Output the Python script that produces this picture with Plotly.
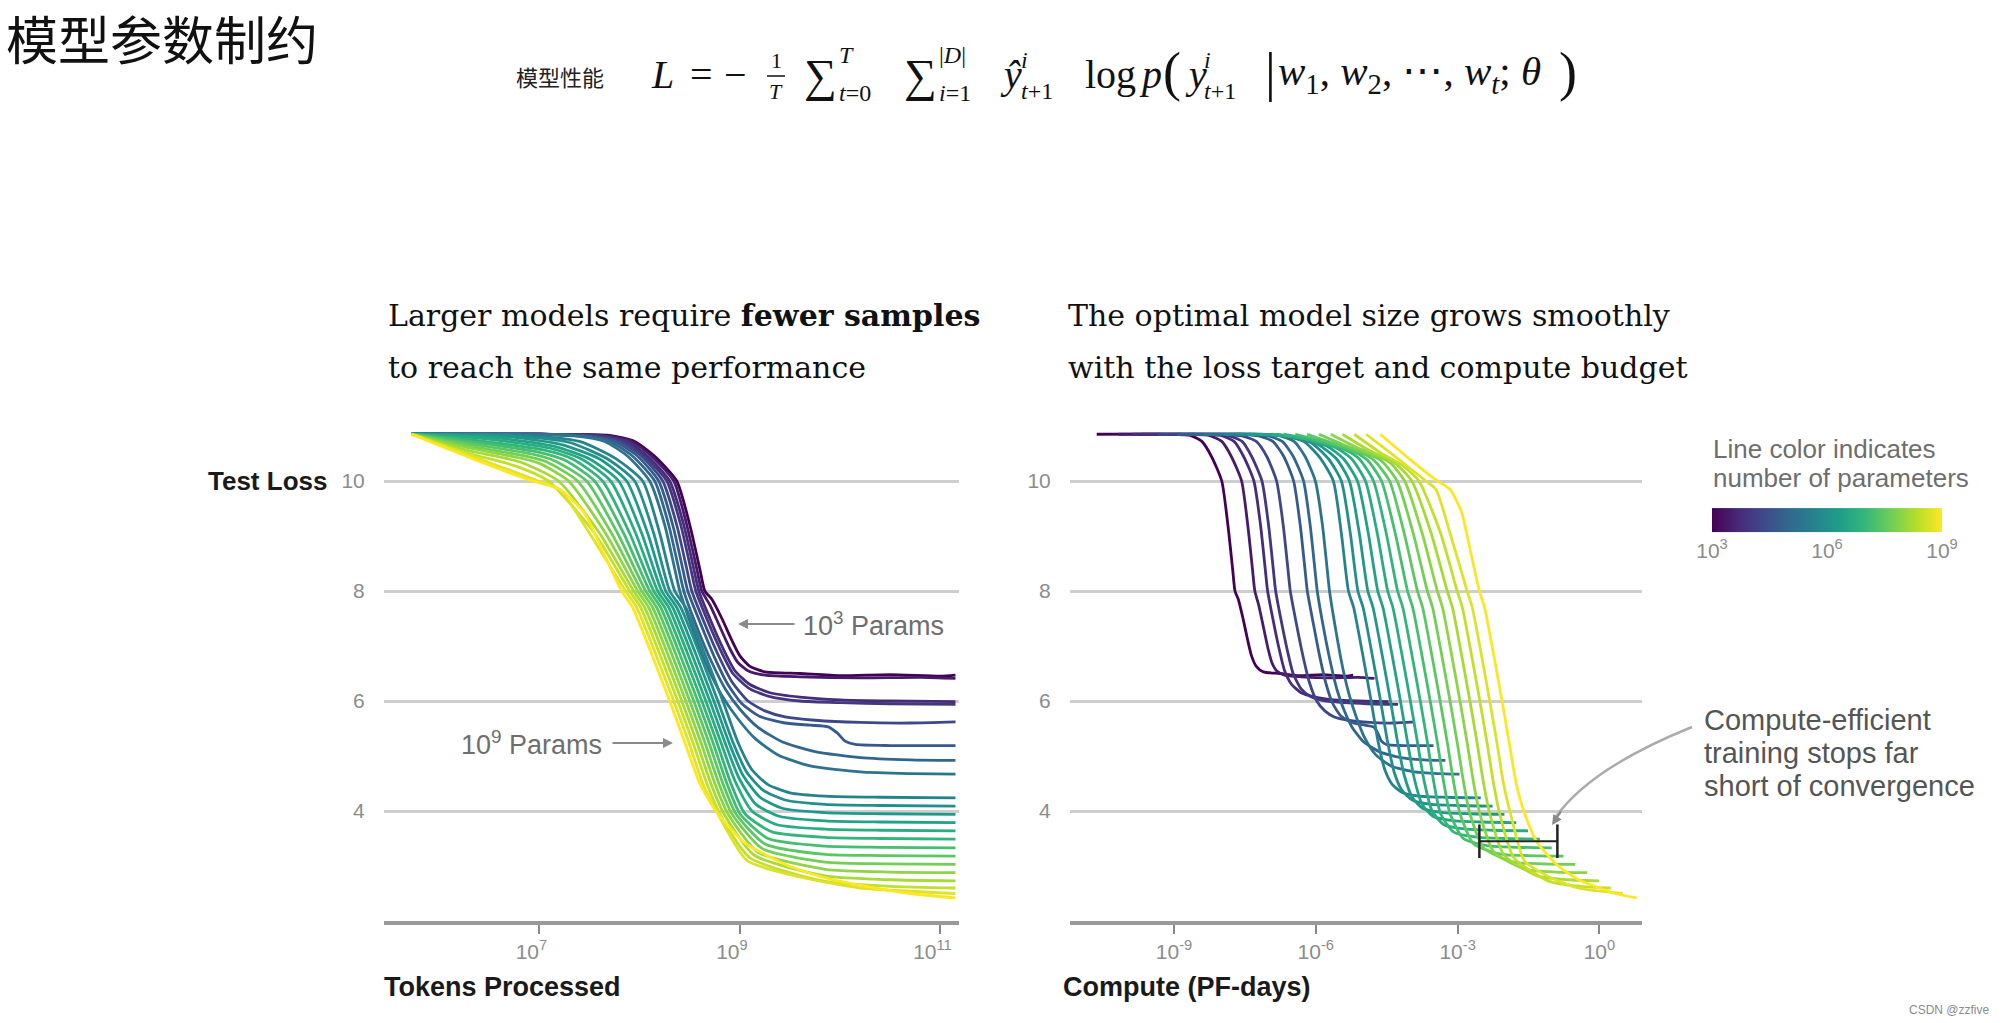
import numpy as np
import plotly.graph_objects as go
from plotly.colors import sample_colorscale

W, H = 2000, 1023

# ---------------- data ----------------
# log10(number of parameters) of each model (colour of its line)
MODEL_LOG_PARAMS = [3.0, 3.45, 3.75, 3.95, 4.3, 4.7, 4.95, 5.25, 5.7, 5.95, 6.2,
                    6.45, 6.7, 6.95, 7.2, 7.45, 7.7, 7.95, 8.2, 8.45, 8.7, 9.0]

# learning curves: (log10 tokens processed, test loss)
LOSS_CURVES = [
    [(5.725, 10.85), (7.0, 10.85), (7.7, 10.83), (7.95, 10.72), (8.15, 10.45), (8.37, 10.0), (8.5, 9.2), (8.6, 8.4), (8.65, 8.0), (8.72, 7.85), (8.82, 7.5), (8.92, 7.1), (9.0, 6.82), (9.1, 6.63), (9.25, 6.53), (9.6, 6.5), (10.0, 6.46), (10.5, 6.48), (11.0, 6.45), (11.15, 6.47)],
    [(5.725, 10.85), (7.0, 10.85), (7.65, 10.83), (7.92, 10.72), (8.12, 10.45), (8.34, 10.0), (8.47, 9.2), (8.57, 8.4), (8.62, 8.0), (8.7, 7.75), (8.8, 7.35), (8.9, 6.95), (8.98, 6.7), (9.08, 6.55), (9.25, 6.47), (9.6, 6.44), (10.2, 6.42), (10.8, 6.43), (11.15, 6.41)],
    [(5.725, 10.85), (7.0, 10.85), (7.6, 10.83), (7.88, 10.72), (8.08, 10.45), (8.3, 10.0), (8.44, 9.2), (8.54, 8.4), (8.59, 8.0), (8.7, 7.5), (8.82, 7.0), (8.95, 6.55), (9.1, 6.3), (9.3, 6.15), (9.6, 6.07), (10.0, 6.02), (10.5, 6.0), (11.15, 5.99)],
    [(5.725, 10.85), (7.0, 10.85), (7.55, 10.83), (7.85, 10.72), (8.05, 10.45), (8.27, 10.0), (8.41, 9.2), (8.51, 8.4), (8.56, 8.0), (8.68, 7.45), (8.8, 6.95), (8.93, 6.5), (9.1, 6.22), (9.3, 6.08), (9.6, 6.0), (10.0, 5.97), (10.5, 5.95), (11.15, 5.94)],
    [(5.725, 10.85), (7.0, 10.85), (7.5, 10.82), (7.8, 10.72), (8.02, 10.45), (8.23, 10.0), (8.37, 9.2), (8.47, 8.4), (8.52, 8.0), (8.65, 7.4), (8.78, 6.85), (8.92, 6.35), (9.08, 6.0), (9.25, 5.82), (9.45, 5.71), (9.75, 5.65), (10.2, 5.61), (10.7, 5.6), (11.15, 5.62)],
    [(5.725, 10.85), (7.0, 10.85), (7.45, 10.82), (7.75, 10.72), (7.98, 10.45), (8.19, 10.0), (8.33, 9.2), (8.43, 8.4), (8.48, 8.0), (8.62, 7.35), (8.75, 6.78), (8.88, 6.3), (9.02, 5.95), (9.2, 5.72), (9.45, 5.6), (9.7, 5.56), (9.88, 5.53), (9.97, 5.42), (10.05, 5.27), (10.15, 5.21), (10.5, 5.19), (11.15, 5.19)],
    [(5.725, 10.85), (6.9, 10.85), (7.4, 10.82), (7.7, 10.72), (7.93, 10.45), (8.15, 10.0), (8.29, 9.2), (8.39, 8.4), (8.44, 8.0), (8.58, 7.3), (8.72, 6.7), (8.86, 6.2), (9.0, 5.85), (9.18, 5.52), (9.42, 5.26), (9.75, 5.08), (10.2, 4.97), (10.7, 4.93), (11.15, 4.92)],
    [(5.725, 10.85), (6.85, 10.85), (7.35, 10.82), (7.65, 10.72), (7.88, 10.45), (8.1, 10.0), (8.25, 9.2), (8.35, 8.4), (8.4, 8.0), (8.54, 7.25), (8.68, 6.6), (8.82, 6.1), (8.97, 5.7), (9.15, 5.32), (9.38, 5.02), (9.7, 4.82), (10.2, 4.71), (10.7, 4.68), (11.15, 4.67)],
    [(5.725, 10.85), (6.8, 10.84), (7.4, 10.72), (7.75, 10.42), (8.03, 10.0), (8.2, 9.05), (8.35, 8.0), (8.46, 7.7), (8.64, 6.9), (8.83, 6.0), (8.98, 5.25), (9.12, 4.75), (9.28, 4.48), (9.5, 4.33), (9.85, 4.27), (10.4, 4.25), (11.15, 4.24)],
    [(5.725, 10.85), (6.7, 10.83), (7.3, 10.7), (7.68, 10.4), (7.95, 10.0), (8.14, 9.05), (8.30, 8.0), (8.41, 7.7), (8.59, 6.9), (8.78, 6.0), (8.93, 5.25), (9.07, 4.7), (9.23, 4.38), (9.45, 4.2), (9.85, 4.12), (10.4, 4.1), (11.15, 4.09)],
    [(5.725, 10.85), (6.6, 10.82), (7.2, 10.67), (7.6, 10.4), (7.87, 10.0), (8.08, 9.05), (8.26, 8.0), (8.37, 7.7), (8.55, 6.9), (8.74, 6.0), (8.89, 5.25), (9.03, 4.65), (9.2, 4.25), (9.42, 4.05), (9.85, 3.97), (10.4, 3.95), (11.15, 3.94)],
    [(5.725, 10.85), (6.5, 10.8), (7.15, 10.63), (7.5, 10.4), (7.79, 10.0), (8.02, 9.05), (8.22, 8.0), (8.33, 7.7), (8.51, 6.9), (8.70, 6.0), (8.85, 5.25), (8.99, 4.6), (9.16, 4.12), (9.4, 3.9), (9.85, 3.82), (10.4, 3.8), (11.15, 3.79)],
    [(5.725, 10.85), (6.4, 10.78), (7.1, 10.6), (7.42, 10.4), (7.71, 10.0), (7.96, 9.05), (8.18, 8.0), (8.29, 7.7), (8.47, 6.9), (8.66, 6.0), (8.81, 5.25), (8.95, 4.55), (9.12, 4.0), (9.37, 3.75), (9.85, 3.67), (10.4, 3.65), (11.15, 3.64)],
    [(5.725, 10.85), (6.3, 10.75), (7.05, 10.56), (7.33, 10.4), (7.63, 10.0), (7.9, 9.05), (8.14, 8.0), (8.25, 7.7), (8.43, 6.9), (8.62, 6.0), (8.77, 5.25), (8.91, 4.5), (9.05, 3.95), (9.32, 3.62), (9.85, 3.52), (10.4, 3.5), (11.15, 3.49)],
    [(5.725, 10.85), (6.3, 10.72), (7.0, 10.52), (7.25, 10.38), (7.55, 10.0), (7.84, 9.05), (8.10, 8.0), (8.21, 7.7), (8.39, 6.9), (8.58, 6.0), (8.73, 5.25), (8.87, 4.5), (9.0, 3.95), (9.28, 3.5), (9.85, 3.36), (10.4, 3.34), (11.15, 3.33)],
    [(5.725, 10.85), (6.3, 10.68), (6.95, 10.48), (7.15, 10.37), (7.47, 10.0), (7.78, 9.05), (8.06, 8.0), (8.17, 7.7), (8.35, 6.9), (8.54, 6.0), (8.69, 5.25), (8.83, 4.5), (8.96, 3.95), (9.25, 3.4), (9.85, 3.21), (10.4, 3.19), (11.15, 3.18)],
    [(5.725, 10.85), (6.3, 10.64), (6.9, 10.44), (7.07, 10.35), (7.38, 10.0), (7.72, 9.05), (8.02, 8.0), (8.13, 7.7), (8.31, 6.9), (8.50, 6.0), (8.65, 5.25), (8.79, 4.5), (8.92, 3.95), (9.22, 3.32), (9.85, 3.07), (10.45, 3.04), (11.15, 3.03)],
    [(5.725, 10.85), (6.3, 10.6), (6.85, 10.4), (7.0, 10.32), (7.29, 10.0), (7.66, 9.05), (7.98, 8.0), (8.09, 7.7), (8.27, 6.9), (8.46, 6.0), (8.61, 5.25), (8.75, 4.5), (8.88, 3.95), (9.18, 3.25), (9.85, 2.94), (10.5, 2.89), (11.15, 2.88)],
    [(5.725, 10.85), (6.3, 10.55), (6.8, 10.35), (7.19, 10.0), (7.6, 9.05), (7.94, 8.0), (8.05, 7.7), (8.23, 6.9), (8.42, 6.0), (8.57, 5.25), (8.71, 4.5), (8.84, 3.95), (9.14, 3.2), (9.85, 2.82), (10.5, 2.75), (11.15, 2.73)],
    [(5.725, 10.85), (6.3, 10.5), (6.75, 10.28), (7.09, 10.0), (7.55, 9.05), (7.90, 8.0), (8.01, 7.7), (8.19, 6.9), (8.38, 6.0), (8.53, 5.25), (8.67, 4.5), (8.8, 3.95), (9.1, 3.15), (9.85, 2.72), (10.5, 2.63), (11.15, 2.6)],
    [(5.725, 10.85), (6.3, 10.47), (6.99, 10.0), (7.2, 9.85), (7.5, 9.05), (7.86, 8.0), (7.97, 7.7), (8.15, 6.9), (8.34, 6.0), (8.49, 5.25), (8.63, 4.5), (8.78, 3.95), (9.07, 3.1), (9.6, 2.8), (10.2, 2.6), (11.15, 2.5)],
    [(5.725, 10.85), (6.3, 10.43), (6.9, 10.02), (7.2, 9.85), (7.45, 9.42), (7.55, 9.05), (7.82, 8.0), (7.93, 7.7), (8.11, 6.9), (8.3, 6.0), (8.45, 5.25), (8.6, 4.5), (8.76, 4.0), (9.04, 3.43), (9.49, 3.0), (9.9, 2.76), (10.23, 2.64), (10.7, 2.5), (11.15, 2.42)],
]

# compute (PF-days) spent per parameter per token, as calibrated from the figure
PF_DAYS_PER_PARAM_TOKEN = 10 ** -19.36

# "compute-efficient" bracket in the right panel
BRACKET_COMPUTE = [10 ** -2.54, 10 ** -0.89]
BRACKET_LOSS = [3.45, 3.45]

LEFT_XTICKS = [1e7, 1e9, 1e11]
LEFT_XTICKTEXT = ["10<sup>7</sup>", "10<sup>9</sup>", "10<sup>11</sup>"]
RIGHT_XTICKS = [1e-9, 1e-6, 1e-3, 1e0]
RIGHT_XTICKTEXT = ["10<sup>-9</sup>", "10<sup>-6</sup>", "10<sup>-3</sup>", "10<sup>0</sup>"]
YTICKS = [4, 6, 8, 10]
CBAR_TICKS = [3, 6, 9]
CBAR_TICKTEXT = ["10<sup>3</sup>", "10<sup>6</sup>", "10<sup>9</sup>"]

# ---------------- helpers ----------------
def px(x):
    return x / W

def py(y):
    return 1 - y / H

SANS = "Liberation Sans, Arial, sans-serif"
SERIF = "DejaVu Serif, serif"
MATH = "Liberation Serif, serif"
CJK = "Noto Sans CJK SC"
GRAY_TXT = "#6e6e6e"
TICK_TXT = "#8c8c8c"

fig = go.Figure()

for logn, pts in zip(MODEL_LOG_PARAMS, LOSS_CURVES):
    col = sample_colorscale("Viridis", [(logn - 3.0) / 6.0])[0]
    logd = np.array([p[0] for p in pts])
    loss = np.array([p[1] for p in pts])
    tokens = 10 ** logd
    compute = tokens * (10 ** logn) * PF_DAYS_PER_PARAM_TOKEN
    line = dict(color=col, width=2.8, shape="spline", smoothing=0.6)
    fig.add_trace(go.Scatter(x=tokens, y=loss, mode="lines", line=line,
                             xaxis="x", yaxis="y", showlegend=False, hoverinfo="skip"))
    fig.add_trace(go.Scatter(x=compute, y=loss, mode="lines", line=line,
                             xaxis="x2", yaxis="y2", showlegend=False, hoverinfo="skip"))

# bracket
fig.add_trace(go.Scatter(x=BRACKET_COMPUTE, y=BRACKET_LOSS, mode="lines+markers",
                         line=dict(color="#222", width=2),
                         marker=dict(symbol="line-ns", size=24, line=dict(color="#222", width=2.5)),
                         xaxis="x2", yaxis="y2", showlegend=False, hoverinfo="skip"))

# colorbar carrier
fig.add_trace(go.Scatter(
    x=[None], y=[None], mode="markers", xaxis="x2", yaxis="y2", showlegend=False, hoverinfo="skip",
    marker=dict(color=[3], cmin=3, cmax=9, colorscale="Viridis", showscale=True,
                colorbar=dict(orientation="h", x=px(1827), xanchor="center",
                              y=py(533), yanchor="middle", len=230, lenmode="pixels",
                              thickness=24, thicknessmode="pixels", outlinewidth=0,
                              tickvals=CBAR_TICKS, ticktext=CBAR_TICKTEXT, ticks="",
                              tickfont=dict(family=SANS, size=21, color=TICK_TXT),
                              xpad=0, ypad=0))))

ydom = [py(921), py(415)]
common_y = dict(range=[2, 11.2], tickvals=YTICKS, showgrid=True, gridcolor="#cecece", gridwidth=3,
                zeroline=False, showline=False, ticks="outside", ticklen=14, tickcolor="rgba(0,0,0,0)",
                tickfont=dict(family=SANS, size=21, color=TICK_TXT), domain=ydom, fixedrange=True)
common_x = dict(type="log", showgrid=False, zeroline=False, showline=True, linecolor="#9a9a9a",
                linewidth=4, ticks="outside", ticklen=9, tickwidth=2, tickcolor="#8a8a8a",
                tickfont=dict(family=SANS, size=21, color=TICK_TXT))

fig.update_layout(
    width=W, height=H, margin=dict(l=0, r=0, t=0, b=0),
    paper_bgcolor="white", plot_bgcolor="white",
    xaxis=dict(common_x, range=[5.45, 11.185], domain=[px(384), px(959)],
               tickvals=LEFT_XTICKS, ticktext=LEFT_XTICKTEXT, anchor="y", ticklabelshift=-8),
    yaxis=dict(common_y, anchor="x"),
    xaxis2=dict(common_x, range=[-11.2, 0.9], domain=[px(1070), px(1642)],
                tickvals=RIGHT_XTICKS, ticktext=RIGHT_XTICKTEXT, anchor="y2"),
    yaxis2=dict(common_y, anchor="x2"),
)

ann = []
def text(x, y, s, size, color="#111", family=SANS, xanchor="left", yanchor="middle"):
    ann.append(dict(x=px(x), y=py(y), xref="paper", yref="paper", text=s, showarrow=False,
                    xanchor=xanchor, yanchor=yanchor, font=dict(family=family, size=size, color=color)))

text(4, 38, "模型参数制约", 52, "#111", CJK)

# ---- formula, typeset piece by piece ----
text(514, 76, "模型性能", 22, "#222", CJK)
M, S = 40, 24
text(649, 74, "<i>L</i>", M, "#111", MATH)
text(688, 74, "=", M, "#111", MATH)
text(722, 74, "−", M, "#111", MATH)
text(776, 61, "1", S - 2, "#111", MATH, xanchor="center")
text(776, 91, "<i>T</i>", S - 2, "#111", MATH, xanchor="center")
text(802, 75, "∑", 46, "#111", MATH)
text(837, 55, "<i>T</i>", S, "#111", MATH)
text(837, 93, "<i>t</i>=0", S, "#111", MATH)
text(902, 75, "∑", 46, "#111", MATH)
text(937, 55, "|<i>D</i>|", S, "#111", MATH)
text(937, 93, "<i>i</i>=1", S, "#111", MATH)
text(998, 74, "<i>ŷ</i>", M, "#111", MATH)
text(1019, 60, "<i>i</i>", S, "#111", MATH)
text(1019, 91, "<i>t</i>+1", S, "#111", MATH)
text(1083, 74, "log", M, "#111", MATH)
text(1137, 74, "<i>p</i>", M, "#111", MATH)
text(1161, 72, "(", 54, "#111", MATH)
text(1183, 74, "<i>y</i>", M, "#111", MATH)
text(1202, 60, "<i>i</i>", S, "#111", MATH)
text(1202, 91, "<i>t</i>+1", S, "#111", MATH)
text(1263, 72, "|", 54, "#111", MATH)
text(1276, 74, "<i>w</i><sub>1</sub>, <i>w</i><sub>2</sub>, ⋯, <i>w</i><sub><i>t</i></sub>; <i>θ</i>",
     41, "#111", MATH)
text(1557, 72, ")", 54, "#111", MATH)

text(386, 316, "Larger models require <b>fewer samples</b>", 30, "#111", SERIF)
text(386, 367, "to reach the same performance", 30, "#111", SERIF)
text(1066, 316, "The optimal model size grows smoothly", 30, "#111", SERIF)
text(1066, 367, "with the loss target and compute budget", 30, "#111", SERIF)

text(329, 481, "<b>Test Loss</b>", 26, "#1a1a1a", SANS, xanchor="right")
text(382, 987, "<b>Tokens Processed</b>", 27, "#1a1a1a", SANS)
text(1061, 987, "<b>Compute (PF-days)</b>", 27, "#1a1a1a", SANS)

text(1711, 449, "Line color indicates", 26, GRAY_TXT)
text(1711, 478, "number of parameters", 26, GRAY_TXT)

text(1702, 720, "Compute-efficient", 29, "#555")
text(1702, 753, "training stops far", 29, "#555")
text(1702, 786, "short of convergence", 29, "#555")

text(801, 624, "10<sup>3</sup> Params", 27, GRAY_TXT)
text(604, 743, "10<sup>9</sup> Params", 27, GRAY_TXT, xanchor="right")
text(1992, 1010, "CSDN @zzfive", 12, "#8a8a8a", SANS, xanchor="right")

def arrow(hx, hy, ax, ay):
    ann.append(dict(x=px(hx), y=py(hy), xref="paper", yref="paper", text="", showarrow=True,
                    ax=ax, ay=ay, arrowhead=2, arrowsize=1, arrowwidth=2, arrowcolor="#8a8a8a"))

arrow(738, 624, 58, 0)
arrow(673, 743, -62, 0)
arrow(1552, 825, 10, -15)

fig.update_layout(annotations=ann)
fig.add_shape(type="path", xref="paper", yref="paper",
              path=f"M {px(1692)},{py(727)} Q {px(1590)},{py(768)} {px(1555)},{py(818)}",
              line=dict(color="#ababab", width=2.5))
# fraction bar of 1/T
fig.add_shape(type="line", xref="paper", yref="paper", x0=px(767), x1=px(785), y0=py(76), y1=py(76),
              line=dict(color="#111", width=1.5))

fig.write_html("out.html", config={"displayModeBar": False},
               post_script="document.body.style.margin='0';")
